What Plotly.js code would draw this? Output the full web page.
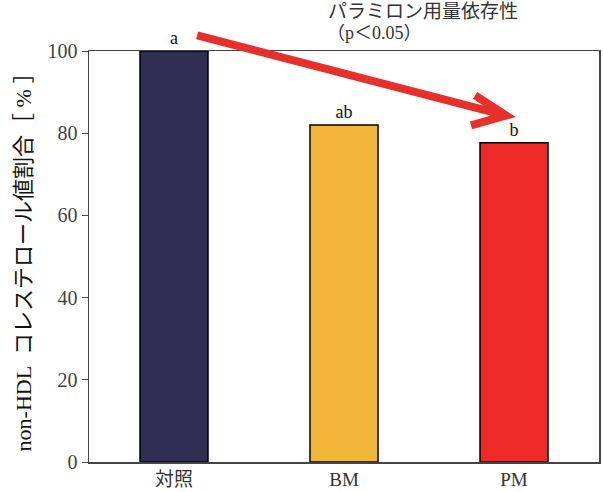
<!DOCTYPE html>
<html><head><meta charset="utf-8">
<script src="https://cdn.plot.ly/plotly-3.0.1.min.js"></script>
<style>html,body{margin:0;padding:0;background:#fff}#c{width:603px;height:492px}</style>
</head><body><div id="c"></div>
<script>
const categories = ["対照", "BM", "PM"];
const values = [100, 82, 77.7];
const sigLabels = ["a", "ab", "b"];
const barColors = ["#2e2f52", "#f3b537", "#ee2a29"];
const yTicks = [0, 20, 40, 60, 80, 100];

const FONT = "Liberation Serif, 'DejaVu Serif', 'Noto Sans CJK JP', serif";

const trace = {
  type: "bar",
  x: categories,
  y: values,
  width: 0.4,
  marker: {color: barColors, line: {color: "#000", width: 1.5}},
  text: sigLabels,
  textposition: "outside",
  textfont: {family: FONT, size: 18, color: "#111"},
  cliponaxis: false,
  hoverinfo: "none"
};

const layout = {
  width: 603, height: 492,
  margin: {l: 89, r: 4, t: 51, b: 30},
  paper_bgcolor: "#fff", plot_bgcolor: "#fff",
  showlegend: false,
  font: {family: FONT, color: "#333"},
  xaxis: {
    showgrid: false, zeroline: false,
    showline: true, linecolor: "#444", linewidth: 1.5, mirror: true,
    ticks: "", tickfont: {family: FONT, size: 19, color: "#333"}
  },
  yaxis: {
    range: [0, 100], tickvals: yTicks, showgrid: false, zeroline: false,
    showline: true, linecolor: "#444", linewidth: 1.5, mirror: true,
    ticks: "outside", ticklen: 6, tickcolor: "#444",
    tickfont: {family: FONT, size: 20, color: "#444"},
    title: {text: "non-HDL\u2002コレステロール値割合［ % ］", font: {family: FONT, size: 22, color: "#111"}, standoff: 10}
  },
  annotations: [
    {xref: "paper", yref: "paper", x: 0.654, y: 1.065, xanchor: "center", yanchor: "bottom",
     text: "パラミロン用量依存性", showarrow: false, font: {family: FONT, size: 19, color: "#333"}},
    {xref: "paper", yref: "paper", x: 0.56, y: 1.015, xanchor: "center", yanchor: "bottom",
     text: "（p＜0.05）", showarrow: false, font: {family: FONT, size: 18, color: "#333"}}
  ],
  shapes: [
    {type: "path", xref: "paper", yref: "paper",
     path: "M0.212,1.038 L0.818,0.843 M0.757,0.892 L0.818,0.843 L0.749,0.819",
     line: {color: "#e8302b", width: 8}}
  ]
};

Plotly.newPlot("c", [trace], layout, {displayModeBar: false, staticPlot: true});
</script></body></html>
